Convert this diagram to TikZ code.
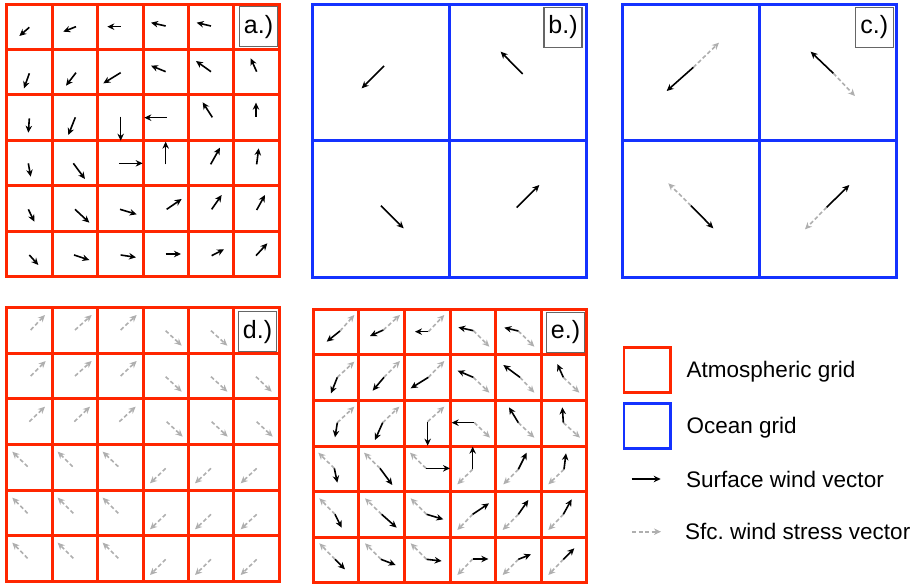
\documentclass[tikz,border=0pt]{standalone}
\usepackage{fontspec}
\setmainfont{Liberation Sans}
\usetikzlibrary{arrows.meta}

\definecolor{atmred}{RGB}{255,38,0}
\definecolor{ocnblue}{RGB}{20,50,255}
\definecolor{stressgray}{RGB}{175,175,175}

\tikzset{
  atmgrid/.style={draw=atmred, line width=3pt, line cap=rect},
  ocngrid/.style={draw=ocnblue, line width=3pt, line cap=rect},
  wind/.style={-{Stealth[length=7pt,width=6.5pt]}, line width=1.6pt, black},
  stress/.style={-{Stealth[length=7pt,width=6.5pt]}, line width=1.6pt, stressgray, dash pattern=on 4pt off 2.5pt},
  panellabel/.style={draw=gray!80!black, line width=1.2pt, fill=white, inner sep=0pt, minimum width=38pt, minimum height=40pt, font=\fontsize{25}{29}\selectfont},
  legendtext/.style={anchor=west, inner sep=0pt, font=\fontsize{22.5}{27}\selectfont}
}

\begin{document}
\begin{tikzpicture}[x=1pt, y=-1pt]
\useasboundingbox (0,0) rectangle (919,584);

% The grids
\begin{scope}[shift={(6.7,4)}]
  \foreach \i in {0,...,6} {
    \draw[atmgrid] (\i*45.45,0) -- (\i*45.45,272.7);
    \draw[atmgrid] (0,\i*45.45) -- (272.7,\i*45.45);
  }
\end{scope}
\begin{scope}[shift={(312.3,4)}]
  \foreach \i in {0,1,2} {
    \draw[ocngrid] (\i*137.2,0) -- (\i*137.2,273);
    \draw[ocngrid] (0,\i*136.5) -- (274.4,\i*136.5);
  }
\end{scope}
\begin{scope}[shift={(622.3,4)}]
  \foreach \i in {0,1,2} {
    \draw[ocngrid] (\i*137.2,0) -- (\i*137.2,273);
    \draw[ocngrid] (0,\i*136.5) -- (274.4,\i*136.5);
  }
\end{scope}
\begin{scope}[shift={(6.7,307.3)}]
  \foreach \i in {0,...,6} {
    \draw[atmgrid] (\i*45.45,0) -- (\i*45.45,274.4);
    \draw[atmgrid] (0,\i*45.73) -- (272.7,\i*45.73);
  }
\end{scope}
\begin{scope}[shift={(313.3,309.3)}]
  \foreach \i in {0,...,6} {
    \draw[atmgrid] (\i*45.57,0) -- (\i*45.57,273.4);
    \draw[atmgrid] (0,\i*45.57) -- (273.4,\i*45.57);
  }
\end{scope}

% Surface wind on the atmospheric grid
\begin{scope}[shift={(0,0)}, scale=1/3]
  \foreach \xa/\ya/\xb/\yb in {88/82/58/108, 228/80/190/95, 362/80/322/80, 497/78/453/68, 633/78/590/68,
    88/220/72/265, 228/218/198/257, 362/218/310/250, 497/215/453/197, 633/215/588/183, 770/215/752/175,
    88/355/85/398, 226/352/205/405, 362/350/362/422, 500/353/433/353, 637/352/608/307, 768/350/768/308,
    85/490/92/530, 220/490/255/537, 357/490/428/490, 497/493/497/425, 632/493/660/443, 770/493/776/445,
    85/628/103/665, 225/628/268/668, 360/628/410/643, 500/628/545/597, 635/628/665/585, 770/630/795/585,
    88/765/115/795, 222/765/268/780, 362/765/408/772, 497/762/543/762, 635/767/672/748, 768/767/802/730}
    \draw[wind] (\xa,\ya) -- (\xb,\yb);
\end{scope}

% Wind averaged onto the ocean grid
\begin{scope}[shift={(305,0)}, scale=1/3]
  \foreach \xa/\ya/\xb/\yb in {237/198/170/265, 653/222/587/155, 228/617/296/685, 635/623/703/555}
    \draw[wind] (\xa,\ya) -- (\xb,\yb);
\end{scope}

% Wind and stress on the ocean grid
\begin{scope}[shift={(615,0)}, scale=1/3]
  \foreach \xa/\ya/\xb/\yb/\xc/\yc in {235/202/155/273/312/128, 655/220/587/155/720/288,
    228/617/295/685/160/550, 635/622/703/555/570/688} {
    \draw[stress] (\xa,\ya) -- (\xc,\yc);
    \draw[wind] (\xa,\ya) -- (\xb,\yb);
  }
\end{scope}

% Stress back on the atmospheric grid
\begin{scope}[shift={(0,300)}, scale=1/3]
  \foreach \xa/\ya/\xb/\yb in {92/90/135/45, 225/90/275/45, 362/90/410/45, 497/92/545/137, 633/92/682/137,
    92/228/137/183, 225/228/275/183, 362/228/410/183, 497/230/545/275, 633/230/682/275, 768/230/815/275,
    88/365/135/320, 223/365/270/320, 358/365/407/320, 500/365/548/410, 635/365/683/410, 770/365/818/410,
    83/500/37/455, 218/500/173/455, 355/500/308/455, 497/505/450/550, 633/505/585/550, 770/505/722/550,
    83/640/37/593, 220/640/173/593, 355/640/308/593, 497/643/450/688, 633/643/585/688, 770/643/722/688,
    83/775/37/728, 220/775/173/728, 355/775/308/728, 497/778/450/825, 633/778/585/825, 770/778/722/825}
    \draw[stress] (\xa,\ya) -- (\xb,\yb);
\end{scope}

% Wind and stress together
\begin{scope}[shift={(305,300)}, scale=1/3]
  \foreach \xa/\ya/\xb/\yb/\xc/\yc in {105/93/65/125/148/45, 235/90/195/108/285/45, 370/95/330/95/418/45,
    505/92/460/82/553/140, 640/93/598/83/688/140,
    97/232/78/280/148/185, 237/232/203/272/285/183, 370/232/317/265/418/183,
    505/232/458/212/553/278, 645/232/595/195/688/278, 775/232/757/192/823/278,
    97/368/90/412/148/320, 233/368/210/420/283/320, 368/365/368/437/418/320,
    508/368/440/368/555/413, 640/368/612/322/688/413, 775/368/772/322/825/413,
    88/505/97/548/40/458, 225/505/262/555/177/458, 363/505/435/505/315/458,
    503/508/503/440/457/553, 640/508/665/458/595/553, 777/508/783/460/730/553,
    90/643/110/683/43/595, 230/643/275/683/180/595, 365/643/415/658/317/595,
    503/643/552/610/457/690, 640/643/670/600/593/690, 775/643/800/598/730/690,
    90/778/120/808/43/730, 228/778/272/795/180/730, 365/778/410/783/317/730,
    503/777/550/777/457/825, 640/778/678/763/593/825, 775/778/808/745/730/825} {
    \draw[stress] (\xa,\ya) -- (\xc,\yc);
    \draw[wind] (\xa,\ya) -- (\xb,\yb);
  }
\end{scope}

% Panel labels
\node[panellabel] (labela) at (258.5,26.7) {a.)};
\node[panellabel] (labelb) at (563,27.5) {b.)};
\node[panellabel] (labelc) at (874.2,27.5) {c.)};
\node[panellabel] (labeld) at (257.5,331.7) {d.)};
\node[panellabel] (labele) at (565.5,332.5) {e.)};

% Legend
\draw[atmgrid, line width=2.5pt] (624,347.3) rectangle (670.7,392.7);
\draw[ocngrid, line width=2.5pt] (624,403.3) rectangle (670.7,448.3);
\node[legendtext] (atmtext) at (686.5,371.7) {Atmospheric grid};
\node[legendtext] (ocntext) at (686.5,427.7) {Ocean grid};
\node[legendtext] (windtext) at (686,479) {Surface wind vector};
\node[legendtext] (stresstext) at (685,531.7) {Sfc.\ wind stress vector};
\coordinate (windstart) at (631.7,479);
\coordinate (windend) at (660.7,479);
\coordinate (stressstart) at (632,531.7);
\coordinate (stressend) at (661,531.7);
\draw[wind] (windstart) -- (windend);
\draw[stress] (stressstart) -- (stressend);

\end{tikzpicture}
\end{document}
